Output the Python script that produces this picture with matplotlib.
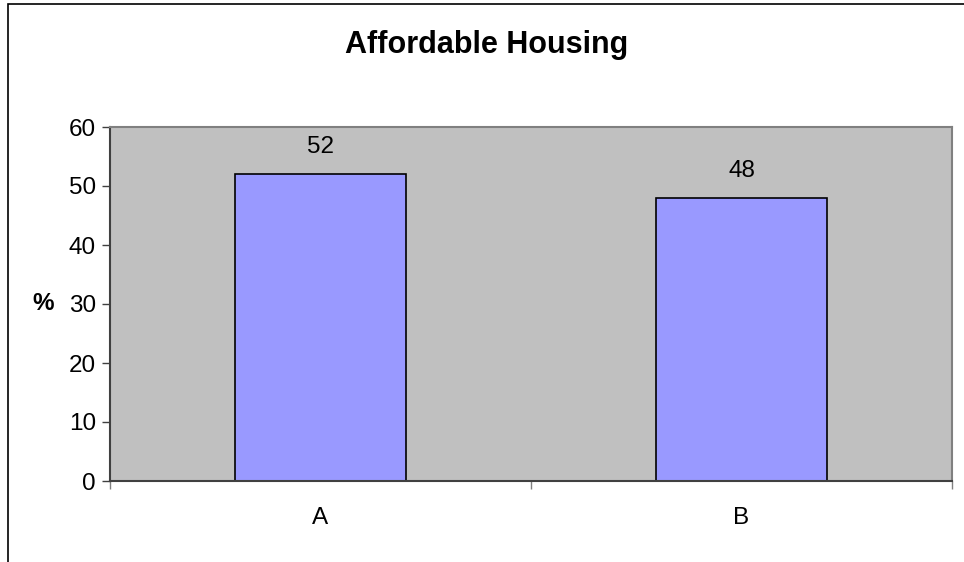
import matplotlib.pyplot as plt
from matplotlib.patches import Rectangle

categories = ["A", "B"]
values = [52, 48]
y_ticks = [0, 10, 20, 30, 40, 50, 60]

plt.rcParams["font.family"] = ["Liberation Sans", "DejaVu Sans"]

fig = plt.figure(figsize=(9.64, 5.62), dpi=100)

# outer chart border (left and top visible only)
fig.add_artist(Rectangle((8 / 964, -0.1), 1.2, (562 - 4) / 562 + 0.1,
                         transform=fig.transFigure, fill=False,
                         edgecolor="black", linewidth=1.2))

ax = fig.add_axes([110 / 964, 1 - 481 / 562, 842 / 964, 354 / 562])
ax.set_facecolor("#C0C0C0")

x = range(len(categories))
bars = ax.bar(x, values, width=0.404, color="#9999FF", edgecolor="black", linewidth=1.2)

for xi, v in zip(x, values):
    ax.text(xi, v + 2.7, str(v), ha="center", va="bottom", fontsize=17.5)

ax.set_xlim(-0.5, len(categories) - 0.5)
ax.set_ylim(0, 60)
ax.set_yticks(y_ticks)
ax.tick_params(axis="y", labelsize=17.5, length=6, width=1, pad=4, color="#404040")
ax.set_xticks([i for i in x])
ax.set_xticklabels(categories)
ax.set_xticks([-0.5, 0.5, 1.5], minor=True)
ax.tick_params(axis="x", which="major", length=0, labelsize=17.5, pad=19)
ax.tick_params(axis="x", which="minor", length=6, width=1, color="#808080")

for side in ["top", "right"]:
    ax.spines[side].set_color("#808080")
    ax.spines[side].set_linewidth(1.5)
for side in ["left", "bottom"]:
    ax.spines[side].set_color("#404040")
    ax.spines[side].set_linewidth(1.5)

ax.set_ylabel("%", fontsize=17.5, fontweight="bold", rotation=0, va="center", ha="center")
ax.yaxis.set_label_coords(-0.080, 0.5)

fig.text(487 / 964, 1 - 53 / 562, "Affordable Housing", ha="center", va="baseline",
         fontsize=22, fontweight="bold")

fig.savefig("out.png", dpi=100)
